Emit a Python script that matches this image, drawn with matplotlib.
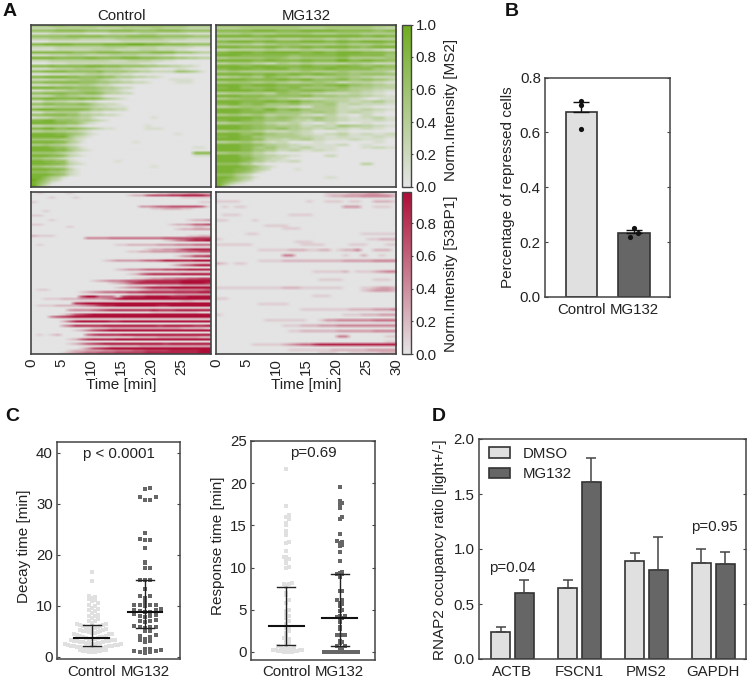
import numpy as np
import matplotlib
matplotlib.use('Agg')
import matplotlib.pyplot as plt
from matplotlib.colors import LinearSegmentedColormap, Normalize
from matplotlib.cm import ScalarMappable
from matplotlib.patches import Patch

plt.rcParams['font.family'] = ['Liberation Sans', 'DejaVu Sans']
plt.rcParams['font.size'] = 10.8
plt.rcParams['text.color'] = '#222222'
plt.rcParams['axes.labelcolor'] = '#222222'
plt.rcParams['xtick.labelcolor'] = '#222222'
plt.rcParams['ytick.labelcolor'] = '#222222'

# heatmaps: one string per cell track, one digit (0-9) per minute
ms2_control = [
    "666777667777888877887777776666", "222233333332222333334433332222",
    "666677777666677776666777766666", "111222222111122222333222221111",
    "666666777777666677777666666555", "333444443333334444444433332222",
    "000111111111111222222221111111", "778888877777888899988877776666",
    "222233333333444433333222222111", "111122222233332222333222110000",
    "777777766667777666667777555433", "111222333222233333222211000000",
    "888877777887777888777666554433", "222333333333322233332211000000",
    "000111222222222222111000000000", "777877777888777666655443322100",
    "111233344443333221110000110000", "667777666667555544332222554310",
    "000111222333222110000000000000", "778888776667664443322100000000",
    "222333445554322110000001111000", "667777776665544332210000111000",
    "111223334432210000000000000000", "888877766665443220000000000000",
    "112233445554332100000000000000", "667777666776433220000000000000",
    "222355443332000000000000000000", "778877778776432100000000000000",
    "113333222110000000000000000000", "667766667643221000000000000000",
    "223344444432211100000000000000", "788877777644332200000000000000",
    "113344442211000000000000000000", "667777664433221000000000000000",
    "122344443310000000001000000000", "778866654432100000000000000000",
    "888877664210000000000000000000", "223333221000000000010000000000",
    "778866765432110000011100000000", "334444332100000000000000000000",
    "888877654210000000000000100000", "888888532100000000000000000000",
    "555554421000000000000000000000", "888877431000000001000000000000",
    "445443210000000000000000000000", "888766431000000000000000000110",
    "888877532100000000000000000000", "555543210000000000000000000777",
    "888776321000000000000000000111", "554432100000000000000000000000",
    "887766210000001000000000000000", "888776321000000000000000000000",
    "554433100000000000001000000000", "888776310000000000000000000000",
    "666554210000000000000000000000", "888765210000000000000000000000",
    "886431000000000000000000000000", "975320000000000000000000000000",
    "864100000000000000000000000000", "952000000000000000000000000000",
]
ms2_mg132 = [
    "777777777777777777777777776666", "333344444444443333444444443322",
    "777777888877778888887777776677", "444455444455555544445555444444",
    "888888778888888888888888778877", "333333444433334444334433333333",
    "778888778877778888778877888877", "444444334455554444445544445544",
    "888877778876778877888877678888", "223333334433334433334433332211",
    "778888778888887788778888777766", "888877777777667777778877777755",
    "445555556665445555556644444455", "888888778877778877779977887766",
    "334444332244334433333344332222", "888877888877778877778877667766",
    "778888778888667777887777775555", "445544444444445544445544444432",
    "888888778877887788776655666655", "334455447655443333445544332222",
    "888887777788778866667755665543", "445555445544334455442233332211",
    "888877888877777766778866554433", "778866667766775555556644443333",
    "888888778877667777665544332211", "334444443366554433222233221100",
    "888877776666667755554444332211", "445566655544332222333322100111",
    "888877778877886655443322334422", "778866775555664444552233222211",
    "334455554433221144442211110000", "888877668866775544442222332211",
    "888877776655554455442233221100", "445544553344442211331100220000",
    "888888775566544455332211223311", "778877665555433244332211112211",
    "334455553322331100220000110000", "888877665544442233225544332211",
    "888877665566443322332211221100", "445555442222332200001100000000",
    "888866775544432211223311221122", "778877554444443322112211112211",
    "888877663332334422111122111100", "334455332122000011000000001100",
    "888877664433221111112200110000", "888877545533223311110000112211",
    "888877554422331122110000000000", "445555331100000000000000000000",
    "888866443322110000220000000000", "888877543221000000000000000000",
    "888876442211220000000000000000", "666644110000000000000000330000",
    "888876532100000000000000000000", "888776432000010000000000000000",
    "888765310000000000000000000000", "666432000000000000000000000000",
    "887543100000000000110000000000", "876532000000000000000000000000",
    "864210000000000000000000000000", "841000000000000000000000000000",
]
bp_control = [
    "010000100000000000000112223322", "000000000000000012256667788886",
    "000100010000000000000000011111", "000000000000000000000000000000",
    "100000000000000000000000000011", "000000000000000000000000000000",
    "000000000000000000334556666651", "000000000000000000001122211000",
    "001000000000000000000000000000", "000000000000000000000000000000",
    "110000000000000000000000000000", "000000000000000000000000000000",
    "000100000000000000000000001223", "000000000000000000000000000000",
    "110000000000000000000001223556", "000000100000000000000000000110",
    "000000000000000000000000122333", "000000000000000000000000000000",
    "000000000000000000000000000000", "211100000000000000000000001122",
    "000000000444455555555566666777", "000000000000000000000012457889",
    "000000000000000000000000000000", "010000000000001122222333444555",
    "000000000000000000000000000000", "000000000000000000012233467888",
    "000000000000000011223333445566", "000000000000000000000000000000",
    "000000000000000000000000134778", "000000000000000000000000000000",
    "000000000000123333455688888999", "000000000000000000000000000000",
    "000000000000000000000001356899", "000000000000000000000000000000",
    "000000000000001233455566778888", "000000000000000000000000000000",
    "000000000000000012578888899999", "000000000000000000000000000000",
    "000000000000000001123344556677", "000000000012344566788888899999",
    "000000000000012357888888899998", "000000000000000011111222233333",
    "000000000000001234578889999999", "011000000000000000123333444445",
    "000000001234556677888888888899", "000000000000000011122222333333",
    "000000006995551788899998889999", "001112223333458999999999999999",
    "000000000000000000000000011000", "000000078999999999999999999999",
    "011122223457889999999889999999", "000000000000000000000000000000",
    "000000344456788888889888999999", "000000000000000000001111111100",
    "000001367899999999999999999999", "000467899999999999999999999999",
    "000000000000000000000000000000", "000002589999988999999999999999",
    "000000000000000000000000000000", "000003588888999999999899999889",
    "000000000011122222222222211110", "000000012467899999999999999999",
    "000000000000000000000000000000", "010120000578888999999999999999",
    "000000000000000001111222222211", "000000125788889999999999999999",
    "000000000000000000000000000000", "000000124678999999999989999999",
    "000000000000011111222222222222", "000000001367899999999999999999",
    "000000122333445556677778888899", "000001234556667777788888888899",
]
bp_mg132 = [
    "000000000000000000111122233211", "000000000000000000122333444442",
    "000000000000000000000000000000", "111100000000000100111011002221",
    "000000000000000000000000000000", "010110000000000000000333001110",
    "000000000000000000000000000000", "000000000000000000000000000000",
    "011100000000111100000000000000", "000000000000000000000000000000",
    "110000100000000000000000000000", "000000000000000000000000000000",
    "000000001111000000000000000000", "000000000001110000000000000000",
    "000000000000000000000000000000", "000001100000000000000000111111",
    "000000000000000000000000000000", "100000000000000000000000011222",
    "000000000000011100000000000000", "111111000000001111000011100011",
    "000000000000000000000000000000", "000000011111222112201224002220",
    "000000000000000000000000000000", "000000000004400000000100200100",
    "000000000000000000000000000000", "000000011112222222222333334444",
    "210110000000000000000000000000", "000000000000000000000000000000",
    "000000000000000000000000000000", "000000000000000011111201112344",
    "000000000000000000000000000000", "000000000000000000000000000000",
    "000000000000000001111000001110", "000000000000000000000000000000",
    "000000000000000000000000000000", "111111111112221111111000112332",
    "000000000000000000000000123332", "000000000000000000000000000000",
    "000000000000000011100000000000", "110000000000000000000000000000",
    "000000000000000000000000000000", "000000011111000000000000000000",
    "000000000000000000000000000000", "000000000000001111111122223334",
    "000000000000000000000000000000", "100000000000000000000111222333",
    "000000000000000000000000000000", "000000001111111001334444445555",
    "000000000000000000000000000000", "000000000001112223334444444444",
    "000000000000000000000000000000", "000000000000112222223333334444",
    "000000000000000000000000000000", "000000000000000000004400000011",
    "000000000000000000000000000000", "000000000000000000000000000011",
    "000000111112345578888888888888", "000000000000000000000000000000",
    "000000000000111111122222233333", "000000000000000001110011111222",
]
minute_ticks = [0, 5, 10, 15, 20, 25, 30]
cbar_ticks = [0.0, 0.2, 0.4, 0.6, 0.8, 1.0]
cbar_ticks_red = [0.0, 0.2, 0.4, 0.6, 0.8]

# panel B
repressed_labels = ['Control', 'MG132']
repressed_means = [0.675, 0.233]
repressed_errs = [0.035, 0.012]
repressed_dots = [[0.715, 0.70, 0.613], [0.25, 0.235, 0.22]]

# panel C
decay_control = [
    1.0, 1.0, 1.0, 1.1, 1.1, 1.2, 1.2, 1.3, 1.4, 1.4, 1.5, 1.5, 1.6, 1.6, 1.7, 1.7, 1.8, 1.8,
    2.0, 2.0, 2.0, 2.1, 2.1, 2.2, 2.2, 2.3, 2.4, 2.4, 2.5, 2.5, 2.6, 2.6, 2.7, 2.7, 2.8, 2.8,
    3.0, 3.0, 3.0, 3.1, 3.1, 3.2, 3.2, 3.3, 3.4, 3.4, 3.5, 3.5, 3.6, 3.7, 3.8, 3.9, 4.0, 4.0,
    4.1, 4.2, 4.3, 4.4, 4.5, 4.5, 4.6, 4.7, 4.8, 4.9, 5.0, 5.0, 5.1, 5.2, 5.3, 5.4, 5.5, 5.6,
    5.7, 5.8, 5.9, 6.0, 6.1, 6.2, 6.3, 6.4, 6.5, 6.6, 7.0, 7.1, 7.4, 7.6, 8.0, 8.1, 8.3, 8.6,
    9.0, 9.1, 9.4, 9.6, 10.0, 10.2, 10.5, 11.0, 11.1, 11.3, 11.5, 11.8, 12.0, 14.9, 16.7,
]
decay_mg132 = [
    0.8, 0.9, 1.0, 1.1, 1.2, 1.4, 1.5, 1.6, 3.0, 3.2, 3.3, 3.5, 4.0, 4.1, 4.3, 5.0, 5.1,
    5.7, 5.8, 5.8, 5.9, 6.0, 6.8, 7.0, 7.1, 7.2, 7.9, 8.0, 8.1, 8.2, 8.4, 8.8, 8.9, 9.0,
    9.1, 9.2, 9.3, 10.0, 10.1, 10.1, 10.2, 10.2, 10.7, 11.5, 11.9, 11.9, 13.3, 15.0, 15.0,
    15.1, 17.4, 17.4, 18.4, 18.6, 21.3, 23.0, 23.0, 23.1, 24.2, 30.7, 30.7, 31.4, 31.4,
    32.8, 33.0,
]
response_control = [
    0.0, 0.0, 0.0, 0.0, 0.1, 0.1, 0.1, 0.1, 0.2, 0.2, 0.2, 0.2, 0.3, 0.3, 0.3, 0.4, 0.5, 0.6,
    0.7, 0.8, 1.0, 1.3, 1.5, 1.7, 2.0, 2.3, 2.5, 2.8, 3.0, 3.3, 3.7, 4.0, 4.2, 4.5, 4.9, 5.0,
    5.8, 6.2, 6.7, 7.0, 7.7, 7.9, 8.0, 8.1, 8.2, 10.0, 10.1, 10.5, 10.8, 11.0, 11.2, 11.3,
    12.0, 12.9, 13.0, 13.8, 14.3, 15.0, 15.3, 15.7, 16.0, 16.2, 17.3, 21.7,
]
response_mg132 = [
    0.0, 0.0, 0.0, 0.0, 0.0, 0.0, 0.0, 0.0, 0.0, 0.0, 0.0, 0.0, 0.0, 0.0, 0.3, 0.4, 0.65,
    0.7, 1.1, 1.2, 1.3, 2.0, 2.0, 2.0, 2.0, 2.7, 2.9, 3.5, 4.0, 4.0, 4.1, 4.2, 4.3, 4.9,
    5.0, 5.5, 5.7, 5.8, 6.2, 6.2, 7.2, 7.2, 8.9, 9.2, 9.2, 9.3, 9.5, 10.8, 11.8, 12.5,
    12.7, 12.9, 13.0, 13.2, 14.0, 15.7, 15.8, 16.0, 17.1, 17.5, 17.7, 17.9, 19.5,
]
group_labels = ['Control', 'MG132']
decay_median = [3.8, 8.9]
decay_low = [2.2, 5.7]
decay_high = [6.3, 15.0]
response_median = [3.05, 4.0]
response_low = [0.85, 0.7]
response_high = [7.7, 9.2]

# panel D
genes = ['ACTB', 'FSCN1', 'PMS2', 'GAPDH']
dmso_vals = [0.25, 0.65, 0.89, 0.875]
dmso_errs = [0.04, 0.07, 0.07, 0.125]
mg_vals = [0.60, 1.61, 0.81, 0.865]
mg_errs = [0.12, 0.22, 0.30, 0.105]

W, H = 750.0, 678.0
EDGE = '#444444'
LIGHT = '#e0e0e0'
DARK = '#666666'
LABEL_SIZE = 11

fig = plt.figure(figsize=(7.5, 6.78), dpi=100)


def px_axes(left, top, right, bottom):
    return fig.add_axes([left / W, 1 - bottom / H, (right - left) / W, (bottom - top) / H])


def frame(ax, lw=1.1):
    for s in ax.spines.values():
        s.set_color(EDGE)
        s.set_linewidth(lw)


def to_matrix(rows):
    return np.array([[int(c) / 9.0 for c in r.ljust(30, '0')[:30]] for r in rows])


def side_label(x, y, text):
    fig.text(x / W, 1 - y / H, text, rotation=90, ha='center', va='center', fontsize=LABEL_SIZE)


green = LinearSegmentedColormap.from_list('green', ['#e4e4e4', '#6fad1f'])
red = LinearSegmentedColormap.from_list('red', ['#e4e4e4', '#ad0d36'])


def heat(ax, rows, cmap):
    ax.imshow(to_matrix(rows), cmap=cmap, vmin=0, vmax=1, aspect='auto',
              extent=[0, 30, len(rows), 0], interpolation='bilinear')
    ax.set_yticks([])
    frame(ax, 1.2)


ax1 = px_axes(31, 24.5, 211, 187)
heat(ax1, ms2_control, green)
ax1.set_xticks([])
ax1.set_title('Control', fontsize=10.8, pad=3)
ax2 = px_axes(216, 24.5, 396, 187)
heat(ax2, ms2_mg132, green)
ax2.set_xticks([])
ax2.set_title('MG132', fontsize=10.8, pad=3)
ax3 = px_axes(31, 192, 211, 354)
heat(ax3, bp_control, red)
ax3.set_xticks(minute_ticks[:-1])
ax3.tick_params(axis='x', length=0, pad=3, labelrotation=90)
ax3.set_xlabel('Time [min]', labelpad=2, fontsize=LABEL_SIZE)
ax4 = px_axes(216, 192, 396, 354)
heat(ax4, bp_mg132, red)
ax4.set_xticks(minute_ticks)
ax4.tick_params(axis='x', length=0, pad=3, labelrotation=90)
ax4.set_xlabel('Time [min]', labelpad=2, fontsize=LABEL_SIZE)

cax1 = px_axes(401.5, 24.5, 411, 187)
cb1 = fig.colorbar(ScalarMappable(Normalize(0, 1), green), cax=cax1)
cb1.set_ticks(cbar_ticks)
cax2 = px_axes(401.5, 192, 411, 354)
cb2 = fig.colorbar(ScalarMappable(Normalize(0, 0.99), red), cax=cax2)
cb2.set_ticks(cbar_ticks_red)
for cb in (cb1, cb2):
    cb.outline.set_edgecolor(EDGE)
    cb.outline.set_linewidth(1)
    cb.ax.tick_params(length=1.5, width=0.8, pad=2, color=EDGE)
side_label(451, 110, 'Norm.Intensity [MS2]')
side_label(451, 274, 'Norm.Intensity [53BP1]')

# panel B
axb = px_axes(545, 77.5, 670, 297)
x = np.arange(2)
axb.bar(x, repressed_means, 0.6, color=[LIGHT, DARK], edgecolor='#333333', linewidth=1.2)
axb.errorbar(x, repressed_means, yerr=[[0, 0], repressed_errs], fmt='none', ecolor='#111111',
             elinewidth=1, capsize=6, capthick=1)
for i, vals in enumerate(repressed_dots):
    offs = [0.0, 0.0, 0.0] if i == 0 else [0.0, 0.07, -0.07]
    axb.scatter([i + o for o in offs], vals, s=14, color='#111111', linewidths=0, zorder=5)
axb.set_xlim(-0.695, 1.686)
axb.set_ylim(0, 0.8)
axb.set_xticks(x)
axb.set_xticklabels(repressed_labels)
axb.set_yticks([0, 0.2, 0.4, 0.6, 0.8])
axb.tick_params(axis='x', length=0, pad=4)
axb.tick_params(axis='y', direction='in', right=True, length=2, pad=3, color=EDGE)
frame(axb)
side_label(508, 187, 'Percentage of repressed cells')


def swarm(vals, center, bin_w, step):
    xs = []
    counts = {}
    for v in vals:
        k = round(v / bin_w)
        n = counts.get(k, 0)
        counts[k] = n + 1
        xs.append(center + ((n + 1) // 2) * step * (1 if n % 2 else -1))
    return xs


def dots(ax, series, med, low, high, bin_w, steps, ylim, yticks, ptext, xlim):
    colors = [LIGHT, DARK]
    for i, vals in enumerate(series):
        ax.scatter(swarm(vals, i, bin_w, steps[i]), vals, s=11, marker='s', color=colors[i],
                   linewidths=0, zorder=2)
        ax.plot([i, i], [low[i], high[i]], color='#222222', lw=1, zorder=3)
        ax.plot([i - 0.325, i + 0.325], [med[i], med[i]], color='#111111', lw=1.5, zorder=4)
        for v in (low[i], high[i]):
            ax.plot([i - 0.17, i + 0.17], [v, v], color='#222222', lw=1, zorder=3)
    ax.set_xlim(*xlim)
    ax.set_ylim(*ylim)
    ax.set_xticks([0, 1])
    ax.set_xticklabels(group_labels)
    ax.set_yticks(yticks)
    ax.tick_params(axis='x', length=0, pad=4)
    ax.tick_params(axis='y', direction='in', right=True, length=2, pad=3, color=EDGE)
    ax.text(0.5, 0.943, ptext, transform=ax.transAxes, ha='center', va='center')
    frame(ax)


axc1 = px_axes(57, 442, 180, 659)
dots(axc1, [decay_control, decay_mg132], decay_median, decay_low, decay_high, 1.0, [0.055, 0.1],
     (-0.4, 42.1), [0, 10, 20, 30, 40], 'p < 0.0001', (-0.65, 1.657))
side_label(24, 546, 'Decay time [min]')

axc2 = px_axes(251, 441, 375, 659.5)
dots(axc2, [response_control, response_mg132], response_median, response_low, response_high, 0.5, [0.05, 0.05],
     (-0.9, 25), [0, 5, 10, 15, 20, 25], 'p=0.69', (-0.662, 1.664))
side_label(218, 546, 'Response time [min]')

# panel D
axd = px_axes(478.7, 439, 746, 659)
g = np.arange(4)
axd.bar(g - 0.177, dmso_vals, 0.288, color=LIGHT, edgecolor='#333333', linewidth=1.2)
axd.bar(g + 0.177, mg_vals, 0.288, color=DARK, edgecolor='#333333', linewidth=1.2)
axd.errorbar(g - 0.177, dmso_vals, yerr=[[0] * 4, dmso_errs], fmt='none', ecolor=EDGE,
             elinewidth=1.1, capsize=3.4, capthick=1.1, zorder=1)
axd.errorbar(g + 0.177, mg_vals, yerr=[[0] * 4, mg_errs], fmt='none', ecolor=EDGE,
             elinewidth=1.1, capsize=3.4, capthick=1.1, zorder=1)
axd.set_xlim(-0.504, 3.488)
axd.set_ylim(0, 2)
axd.set_xticks(g)
axd.set_xticklabels(genes)
axd.set_yticks([0, 0.5, 1, 1.5, 2])
axd.set_yticklabels(['0.0', '0.5', '1.0', '1.5', '2.0'])
axd.tick_params(axis='x', length=0, pad=4)
axd.tick_params(axis='y', direction='in', right=True, length=2, pad=3, color=EDGE)
frame(axd)
axd.legend(handles=[Patch(facecolor=LIGHT, edgecolor='#333333', linewidth=1.2, label='DMSO'),
                    Patch(facecolor=DARK, edgecolor='#333333', linewidth=1.2, label='MG132')],
           frameon=False, loc='upper left', bbox_to_anchor=(0.02, 0.985), borderaxespad=0,
           handlelength=1.42, handleheight=0.7, labelspacing=0.42, handletextpad=0.85, borderpad=0.3)
axd.text(0, 0.825, 'p=0.04', ha='center', va='center')
axd.text(3.01, 1.2, 'p=0.95', ha='center', va='center')
side_label(440, 550, 'RNAP2 occupancy ratio [light+/-]')

for lab, px, py in [('A', 10, 12), ('B', 512, 11), ('C', 12, 417), ('D', 439, 417)]:
    fig.text(px / W, 1 - py / H, lab, fontsize=14, fontweight='bold', ha='center', va='center',
             color='#111111')

fig.savefig('out.png', dpi=100)
